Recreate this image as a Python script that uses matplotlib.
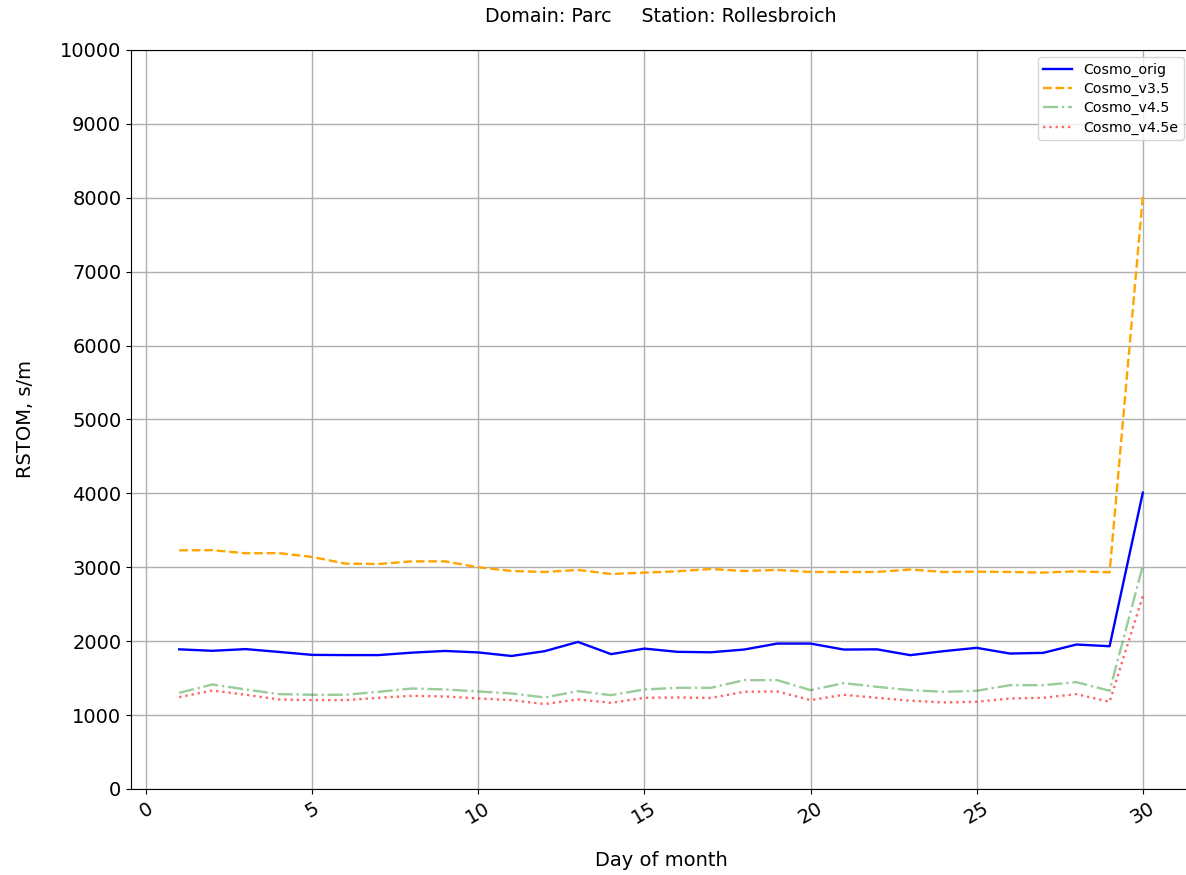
import matplotlib
matplotlib.use("Agg")
import matplotlib.pyplot as plt

days = list(range(1, 31))
cosmo_orig = [1890, 1870, 1893, 1855, 1815, 1812, 1812, 1845, 1868, 1848,
              1800, 1865, 1990, 1825, 1900, 1856, 1850, 1887, 1968, 1968,
              1887, 1890, 1811, 1865, 1910, 1833, 1842, 1955, 1932, 4010]
cosmo_v35 = [3230, 3232, 3190, 3192, 3140, 3050, 3045, 3080, 3080, 3000,
             2950, 2937, 2964, 2910, 2928, 2946, 2977, 2950, 2964, 2937,
             2937, 2937, 2970, 2937, 2941, 2937, 2928, 2946, 2932, 8020]
cosmo_v45 = [1301, 1414, 1347, 1284, 1275, 1275, 1315, 1360, 1347, 1320,
             1293, 1239, 1324, 1270, 1347, 1369, 1369, 1473, 1473, 1338,
             1432, 1383, 1338, 1315, 1329, 1405, 1405, 1446, 1329, 3020]
cosmo_v45e = [1243, 1333, 1275, 1212, 1203, 1203, 1234, 1261, 1252, 1225,
              1203, 1149, 1212, 1166, 1234, 1239, 1232, 1315, 1320, 1203,
              1275, 1234, 1195, 1171, 1180, 1225, 1234, 1284, 1180, 2610]

series_names = ["Cosmo_orig", "Cosmo_v3.5", "Cosmo_v4.5", "Cosmo_v4.5e"]
title_text = "Domain: Parc     Station: Rollesbroich"
xlabel_text = "Day of month"
ylabel_text = "RSTOM, s/m"
yticks = list(range(0, 10001, 1000))

fig = plt.figure(figsize=(11.86, 8.75), dpi=100)
ax = fig.add_axes([131/1186, 1-789/875, (1191-131)/1186, (789-50)/875])

ax.plot(days, cosmo_orig, color="blue", linestyle="-", linewidth=1.7, label=series_names[0])
ax.plot(days, cosmo_v35, color="orange", linestyle="--", linewidth=1.7, label=series_names[1])
ax.plot(days, cosmo_v45, color="green", alpha=0.4, linestyle="-.", linewidth=1.7, label=series_names[2])
ax.plot(days, cosmo_v45e, color="red", alpha=0.6, linestyle=":", linewidth=1.7, label=series_names[3])

ax.set_ylim(0, 10000)
ax.set_yticks(yticks)
ax.grid(True, color="#b0b0b0", linewidth=1.0)
ax.spines["right"].set_visible(False)
ax.tick_params(axis="both", labelsize=14)
for lbl in ax.get_xticklabels():
    lbl.set_rotation(30)

ax.set_xlabel(xlabel_text, fontsize=14, labelpad=17)
ax.set_ylabel(ylabel_text, fontsize=14, labelpad=18)
ax.set_title(title_text, fontsize=13.7, pad=20)
ax.legend(loc="upper right", fontsize=10.2, labelspacing=0.36)

fig.savefig("out.png", dpi=100)
